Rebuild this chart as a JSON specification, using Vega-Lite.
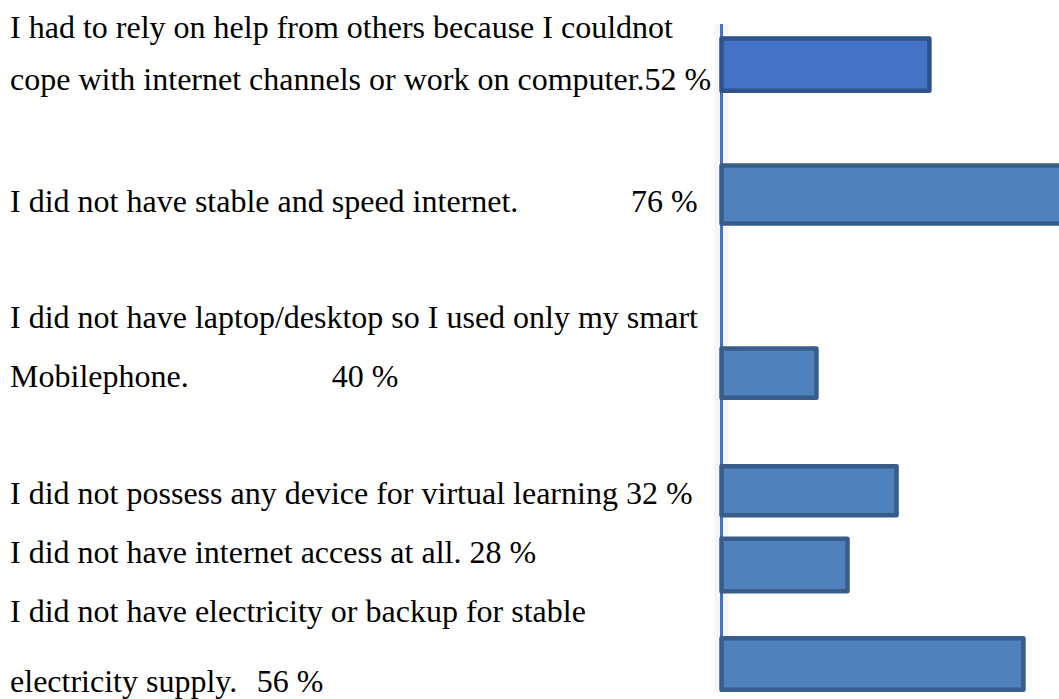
{
  "$schema": "https://vega.github.io/schema/vega-lite/v6.json",
  "width": 1059,
  "height": 699,
  "autosize": {"type": "fit", "contains": "padding"},
  "padding": 0,
  "background": "white",
  "config": {"view": {"stroke": null}},
  "datasets": {
    "bars": [
      {"item": "I had to rely on help from others because I couldnot cope with internet channels or work on computer.", "pct": 52, "len": 46.2, "top": 0.01, "bottom": 0.9, "group": "first"},
      {"item": "I did not have stable and speed internet.", "pct": 76, "len": 77, "top": 2.18, "bottom": 3.17, "group": "rest"},
      {"item": "I did not have laptop/desktop so I used only my smart Mobilephone.", "pct": 40, "len": 21.1, "top": 5.31, "bottom": 6.15, "group": "rest"},
      {"item": "I did not possess any device for virtual learning", "pct": 32, "len": 38.9, "top": 7.32, "bottom": 8.16, "group": "rest"},
      {"item": "I did not have internet access at all.", "pct": 28, "len": 28, "top": 8.56, "bottom": 9.46, "group": "rest"},
      {"item": "I did not have electricity or backup for stable electricity supply.", "pct": 56, "len": 67.1, "top": 10.26, "bottom": 11.14, "group": "rest"}
    ],
    "lines": [
      {"text": "I had to rely on help from others because I couldnot", "line": 0, "at": -158.1},
      {"text": "cope with internet channels or work on computer.52 %", "line": 0.889, "at": -158.1},
      {"text": "I did not have stable and speed internet.", "line": 2.974, "at": -158.1},
      {"text": "76 %", "line": 2.974, "at": -20.1},
      {"text": "I did not have laptop/desktop so I used only my smart", "line": 4.957, "at": -158.1},
      {"text": "Mobilephone.", "line": 5.966, "at": -158.1},
      {"text": "40 %", "line": 5.966, "at": -86.6},
      {"text": "I did not possess any device for virtual learning 32 %", "line": 7.966, "at": -158.1},
      {"text": "I did not have internet access at all. 28 %", "line": 8.974, "at": -158.1},
      {"text": "I did not have electricity or backup for stable", "line": 9.983, "at": -158.1},
      {"text": "electricity supply.", "line": 11.18, "at": -158.1},
      {"text": "56 %", "line": 11.18, "at": -103.3}
    ]
  },
  "layer": [
    {
      "data": {"values": [{}]},
      "mark": {"type": "rule", "color": "#000000", "opacity": 0.04, "strokeWidth": 14},
      "encoding": {
        "x": {"datum": 0, "type": "quantitative", "scale": {"domain": [-160.333, 75], "nice": false, "zero": false}, "axis": null},
        "y": {"datum": -0.24, "type": "quantitative", "scale": {"domain": [-0.65, 11.3], "nice": false, "zero": false, "reverse": true}, "axis": null},
        "y2": {"datum": 11.18}
      }
    },
    {
      "data": {"values": [{}]},
      "mark": {"type": "rule", "color": "#4472C4", "strokeWidth": 3},
      "encoding": {
        "x": {"datum": 0, "type": "quantitative", "scale": {"domain": [-160.333, 75], "nice": false, "zero": false}, "axis": null},
        "y": {"datum": -0.24, "type": "quantitative", "scale": {"domain": [-0.65, 11.3], "nice": false, "zero": false, "reverse": true}, "axis": null},
        "y2": {"datum": 11.18}
      }
    },
    {
      "data": {"name": "bars"},
      "mark": {"type": "rect", "strokeWidth": 4.5, "strokeJoin": "round", "clip": true},
      "encoding": {
        "x": {"field": "len", "type": "quantitative", "scale": {"domain": [-160.333, 75], "nice": false, "zero": false}, "axis": null},
        "x2": {"datum": 0},
        "y": {"field": "top", "type": "quantitative", "scale": {"domain": [-0.65, 11.3], "nice": false, "zero": false, "reverse": true}, "axis": null},
        "y2": {"field": "bottom"},
        "fill": {"field": "group", "type": "nominal", "scale": {"domain": ["first", "rest"], "range": ["#4472C4", "#4F81BD"]}, "legend": null},
        "stroke": {"field": "group", "type": "nominal", "scale": {"domain": ["first", "rest"], "range": ["#2F528F", "#385D8A"]}, "legend": null},
        "tooltip": [{"field": "item", "type": "nominal"}, {"field": "pct", "type": "quantitative"}]
      }
    },
    {
      "data": {"name": "lines"},
      "mark": {"type": "text", "align": "left", "baseline": "alphabetic", "font": "Liberation Serif", "fontSize": 32, "color": "#000000"},
      "encoding": {
        "x": {"field": "at", "type": "quantitative", "scale": {"domain": [-160.333, 75], "nice": false, "zero": false}, "axis": null},
        "y": {"field": "line", "type": "quantitative", "scale": {"domain": [-0.65, 11.3], "nice": false, "zero": false, "reverse": true}, "axis": null},
        "text": {"field": "text"}
      }
    }
  ]
}
